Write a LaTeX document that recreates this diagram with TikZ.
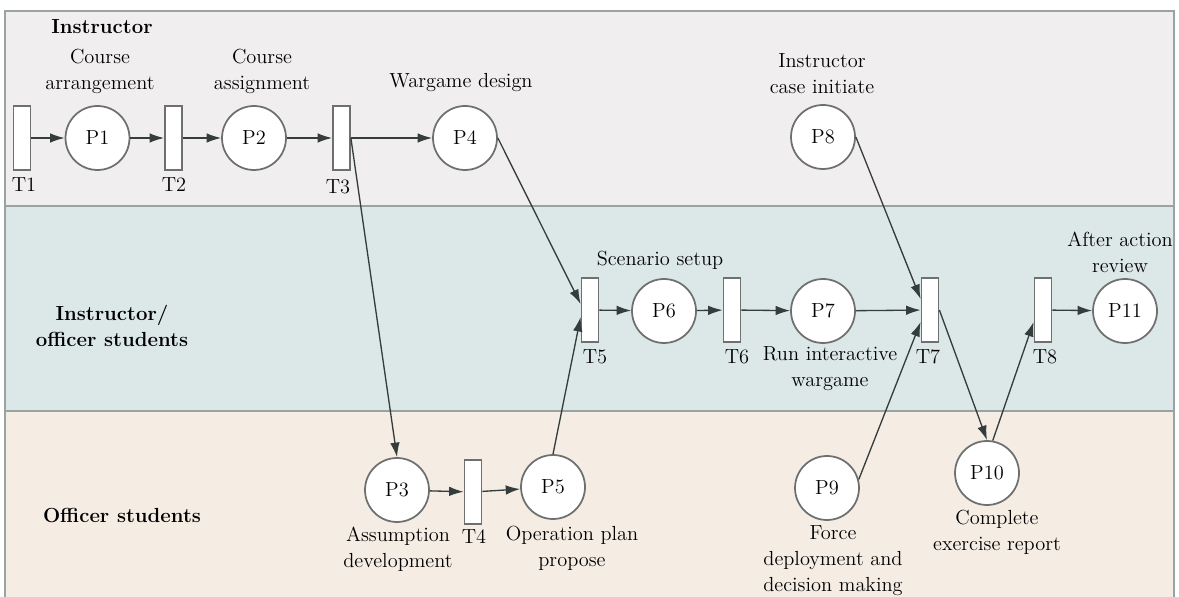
\documentclass[tikz,border=0pt]{standalone}
\usetikzlibrary{arrows.meta,calc}
\definecolor{laneA}{HTML}{F0EEEF}
\definecolor{laneB}{HTML}{DCE7E7}
\definecolor{laneC}{HTML}{F5ECE4}
\definecolor{laneborder}{HTML}{9AA3A4}
\definecolor{shapeborder}{HTML}{6E7070}
\definecolor{edgecol}{HTML}{343C3C}
\begin{document}
\begin{tikzpicture}[x=0.02cm,y=-0.02cm,
  every node/.style={font=\fontsize{11.6}{14.8}\selectfont},
  place/.style={circle,draw=shapeborder,line width=1pt,fill=white,minimum size=1.28cm,inner sep=0pt},
  trans/.style={rectangle,draw=shapeborder,line width=1pt,fill=white,minimum width=0.34cm,minimum height=1.28cm,inner sep=0pt},
  txt/.style={align=center,inner sep=0pt},
  lane/.style={font=\bfseries\fontsize{11.6}{14.8}\selectfont,align=center,inner sep=0pt},
  arc/.style={draw=edgecol,line width=0.75pt,-{Latex[length=2.9mm,width=1.9mm]}}]
\useasboundingbox (0,0) rectangle (1179,597);
% lanes
\fill[laneA] (5,11) rectangle (1174,206);
\fill[laneB] (5,206) rectangle (1174,411);
\fill[laneC] (5,411) rectangle (1174,597);
\draw[laneborder,line width=1.2pt] (5,597) -- (5,11) -- (1174,11) -- (1174,597);
\draw[laneborder,line width=1.2pt] (5,206) -- (1174,206);
\draw[laneborder,line width=1.2pt] (5,411) -- (1174,411);
% lane titles
\node[lane] (L1) at (102,27) {Instructor};
\node[lane] (L2) at (112,326) {Instructor/\\officer students};
\node[lane] (L3) at (122,515) {Officer students};
% transitions
\node[trans] (T1) at (22,138) {};
\node[trans] (T2) at (173.5,138) {};
\node[trans] (T3) at (341.5,138) {};
\node[trans] (T4) at (473,492) {};
\node[trans] (T5) at (590,310) {};
\node[trans] (T6) at (732,310) {};
\node[trans] (T7) at (930,310) {};
\node[trans] (T8) at (1043,310) {};
% places
\node[place] (P1) at (97.5,138) {P1};
\node[place] (P2) at (254,138) {P2};
\node[place] (P3) at (397,490) {P3};
\node[place] (P4) at (465,138) {P4};
\node[place] (P5) at (553,487) {P5};
\node[place] (P6) at (664,311) {P6};
\node[place] (P7) at (823,311) {P7};
\node[place] (P8) at (823,137) {P8};
\node[place] (P9) at (827,488) {P9};
\node[place] (P10) at (987,473) {P10};
\node[place] (P11) at (1125,311) {P11};
% transition labels
\node[txt] (T1l) at (24,185) {T1};
\node[txt] (T2l) at (174,185) {T2};
\node[txt] (T3l) at (338,187) {T3};
\node[txt] (T4l) at (474,537) {T4};
\node[txt] (T5l) at (595,357) {T5};
\node[txt] (T6l) at (737,357) {T6};
\node[txt] (T7l) at (928,357) {T7};
\node[txt] (T8l) at (1045,357) {T8};
% place labels
\node[txt] (P1l) at (100,71) {Course\\arrangement};
\node[txt] (P2l) at (262,71) {Course\\assignment};
\node[txt] (P4l) at (461,83) {Wargame design};
\node[txt] (P8l) at (822,74) {Instructor\\case initiate};
\node[txt] (P6l) at (660,260) {Scenario setup};
\node[txt] (P7l) at (830,369) {Run interactive\\wargame};
\node[txt] (P11l) at (1120,252) {After action\\review};
\node[txt] (P3l) at (398,549) {Assumption\\development};
\node[txt] (P5l) at (572,548) {Operation plan\\propose};
\node[txt] (P9l) at (833,561) {Force\\deployment and\\decision making};
\node[txt] (P10l) at (997,532) {Complete\\exercise report};
% arcs
\draw[arc] (T1) -- (P1);
\draw[arc] (P1) -- (T2);
\draw[arc] (T2) -- (P2);
\draw[arc] (P2) -- (T3);
\draw[arc] (T3) -- (P4);
\draw[arc] (T3.east) -- (P3.north);
\draw[arc] (P3) -- (T4);
\draw[arc] (T4) -- (P5);
\draw[arc] (P4.east) -- ($(T5.west)+(0,-6)$);
\draw[arc] (P5.north) -- ($(T5.west)+(0,7)$);
\draw[arc] (T5) -- (P6);
\draw[arc] (P6) -- (T6);
\draw[arc] (T6) -- (P7);
\draw[arc] (P7) -- (T7);
\draw[arc] (P8.east) -- ($(T7.west)+(0,-11)$);
\draw[arc] (P9.15) -- ($(T7.west)+(0,12)$);
\draw[arc] (T7.east) -- (P10.north);
\draw[arc] (P10.80) -- ($(T8.west)+(0,12)$);
\draw[arc] (T8) -- (P11);
\end{tikzpicture}
\end{document}
